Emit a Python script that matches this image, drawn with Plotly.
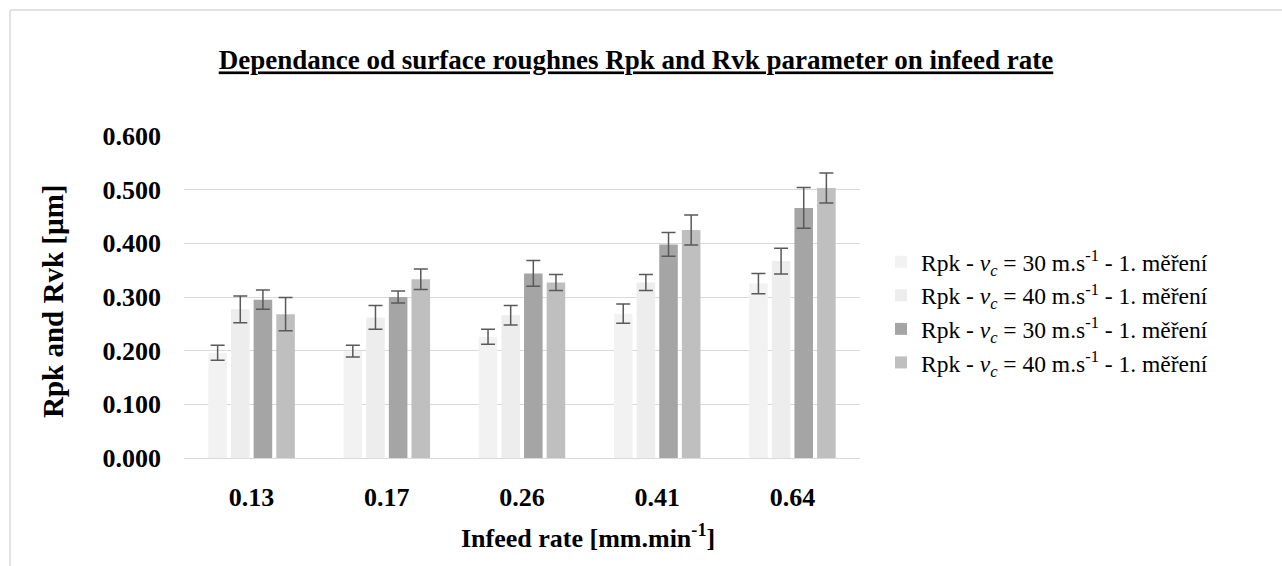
import plotly.graph_objects as go

categories = ["0.13", "0.17", "0.26", "0.41", "0.64"]
series_names = [
    "Rpk - <i>v<sub>c</sub></i> = 30 m.s<sup>-1</sup> - 1. měření",
    "Rpk - <i>v<sub>c</sub></i> = 40 m.s<sup>-1</sup> - 1. měření",
    "Rpk - <i>v<sub>c</sub></i> = 30 m.s<sup>-1</sup> - 1. měření",
    "Rpk - <i>v<sub>c</sub></i> = 40 m.s<sup>-1</sup> - 1. měření",
]
s1 = [0.196, 0.199, 0.226, 0.269, 0.325]
s1_err = [0.014, 0.011, 0.014, 0.018, 0.019]
s2 = [0.277, 0.262, 0.266, 0.327, 0.367]
s2_err = [0.025, 0.022, 0.018, 0.015, 0.024]
s3 = [0.295, 0.300, 0.344, 0.398, 0.466]
s3_err = [0.018, 0.011, 0.024, 0.022, 0.038]
s4 = [0.268, 0.333, 0.327, 0.425, 0.503]
s4_err = [0.031, 0.019, 0.015, 0.028, 0.028]
colors = ["#f2f2f2", "#ededed", "#a5a5a5", "#bfbfbf"]

FONT = "Liberation Serif"

fig = go.Figure()
for i, (vals, errs) in enumerate([(s1, s1_err), (s2, s2_err), (s3, s3_err), (s4, s4_err)]):
    fig.add_trace(go.Bar(
        x=categories, y=vals, name=series_names[i],
        marker=dict(color=colors[i], line=dict(width=0)),
        legendgroup=f"g{i}",
        error_y=dict(type="data", array=errs, visible=True,
                     color="#595959", thickness=1.5, width=7),
    ))

W, H = 1282, 566
L, R, T, B = 184, 422, 136, 108
pw, ph = W - L - R, H - T - B

def px_x(p):
    return (p - L) / pw

def px_y(p):
    return (H - B - p) / ph

fig.update_layout(
    width=W, height=H,
    margin=dict(l=L, r=R, t=T, b=B, pad=0),
    paper_bgcolor="white", plot_bgcolor="white",
    font=dict(family=FONT, color="#000000"),
    barmode="group", bargap=0.33, bargroupgap=0.18,
    title=dict(
        text="<u>Dependance od surface roughnes Rpk and Rvk parameter on infeed rate</u>",
        font=dict(family=FONT, size=27, weight="bold", color="#000"),
        xref="container", x=636 / W, xanchor="center",
        yref="container", y=1 - 60 / H, yanchor="middle",
    ),
    xaxis=dict(
        type="category", showgrid=False, zeroline=False,
        showline=True, linecolor="#d9d9d9", linewidth=1,
        ticks="", tickfont=dict(family=FONT, size=26, weight="bold", color="#000"),
        ticklabelstandoff=16,
    ),
    yaxis=dict(
        range=[0, 0.6], dtick=0.1, tickformat=".3f",
        showgrid=True, gridcolor="#d9d9d9", gridwidth=1,
        zeroline=False, showline=False, ticks="",
        tickfont=dict(family=FONT, size=26, weight="bold", color="#000"),
        ticklabelstandoff=22,
    ),
    legend=dict(
        x=px_x(881), xanchor="left", y=px_y(240), yanchor="top",
        font=dict(family=FONT, size=23.5, color="#000"),
        bgcolor="rgba(0,0,0,0)", borderwidth=0,
        tracegroupgap=2, traceorder="normal",
    ),
    annotations=[
        dict(text="Rpk and Rvk [µm]", textangle=-90,
             xref="paper", yref="paper", x=px_x(53), y=px_y(302),
             xanchor="center", yanchor="middle", showarrow=False,
             font=dict(family=FONT, size=29, weight="bold", color="#000")),
        dict(text="Infeed rate [mm.min<sup>-1</sup>]",
             xref="paper", yref="paper", x=px_x(588), y=px_y(536),
             xanchor="center", yanchor="middle", showarrow=False,
             font=dict(family=FONT, size=26, weight="bold", color="#000")),
    ],
    shapes=[
        dict(type="line", xref="paper", yref="paper",
             x0=px_x(10), x1=px_x(1300), y0=px_y(10), y1=px_y(10),
             line=dict(color="#d9d9d9", width=1.5)),
        dict(type="line", xref="paper", yref="paper",
             x0=px_x(10), x1=px_x(10), y0=px_y(10), y1=px_y(600),
             line=dict(color="#d9d9d9", width=1.5)),
    ],
)

fig.write_html("out.html")
